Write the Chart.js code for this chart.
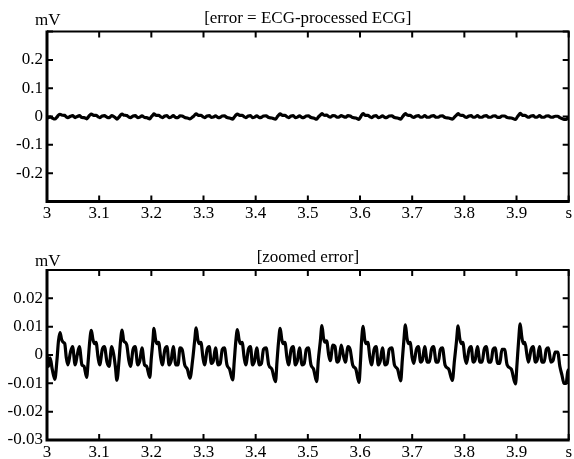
<!DOCTYPE html>
<html>
<head>
<meta charset="utf-8">
<script src="https://cdn.jsdelivr.net/npm/chart.js@4.4.1/dist/chart.umd.min.js"></script>
<style>
  body { margin: 0; background: #fff; }
  #wrap { position: relative; width: 574px; height: 459px; overflow: hidden; }
  #wrap canvas { position: absolute; left: 0; }
</style>
</head>
<body>
<div id="wrap">
  <canvas id="error-chart" width="574" height="230" style="top:0"></canvas>
  <canvas id="zoom-chart" width="574" height="229" style="top:230px"></canvas>
</div>
<script>
// error signal (mV), time in seconds
const times = [
  3.000, 3.003, 3.006, 3.010, 3.015, 3.019, 3.022, 3.025,
  3.028, 3.031, 3.034, 3.037, 3.040, 3.045, 3.049, 3.054, 3.058, 3.062, 3.067, 3.071, 3.076, 3.079, 3.082, 3.085,
  3.088, 3.091, 3.094, 3.098, 3.101, 3.106, 3.110, 3.115, 3.119, 3.124, 3.128, 3.131, 3.134, 3.138, 3.141, 3.144,
  3.147, 3.150, 3.153, 3.157, 3.160, 3.165, 3.169, 3.174, 3.178, 3.182, 3.187, 3.191, 3.197, 3.200, 3.203, 3.205,
  3.208, 3.211, 3.214, 3.218, 3.221, 3.226, 3.230, 3.234, 3.238, 3.242, 3.247, 3.251, 3.255, 3.259, 3.264, 3.269, 3.274, 3.279, 3.283, 3.286,
  3.289, 3.292, 3.295, 3.299, 3.302, 3.307, 3.311, 3.315, 3.319, 3.323, 3.328, 3.332, 3.336, 3.340, 3.345, 3.350, 3.356, 3.359, 3.362, 3.365,
  3.368, 3.371, 3.374, 3.378, 3.381, 3.386, 3.390, 3.394, 3.398, 3.402, 3.407, 3.411, 3.415, 3.420, 3.425, 3.431, 3.438, 3.441, 3.444, 3.447,
  3.450, 3.453, 3.456, 3.460, 3.463, 3.468, 3.472, 3.476, 3.480, 3.484, 3.489, 3.493, 3.497, 3.501, 3.506, 3.511, 3.517, 3.520, 3.524, 3.527,
  3.530, 3.533, 3.536, 3.540, 3.543, 3.548, 3.552, 3.556, 3.560, 3.564, 3.568, 3.572, 3.577, 3.581, 3.586, 3.592, 3.598, 3.601, 3.603, 3.606,
  3.609, 3.612, 3.615, 3.619, 3.622, 3.627, 3.631, 3.635, 3.639, 3.643, 3.648, 3.652, 3.656, 3.661, 3.666, 3.672, 3.678, 3.681, 3.684, 3.687,
  3.690, 3.693, 3.696, 3.700, 3.703, 3.708, 3.712, 3.716, 3.720, 3.724, 3.729, 3.733, 3.737, 3.741, 3.746, 3.750, 3.754, 3.758, 3.763, 3.770, 3.777, 3.781, 3.785, 3.788,
  3.791, 3.794, 3.797, 3.801, 3.804, 3.809, 3.813, 3.817, 3.821, 3.825, 3.830, 3.834, 3.838, 3.842, 3.847, 3.851, 3.855, 3.859, 3.864, 3.868, 3.872, 3.877, 3.882, 3.890, 3.898, 3.901, 3.904, 3.907,
  3.910, 3.913, 3.916, 3.920, 3.923, 3.928, 3.932, 3.936, 3.940, 3.944, 3.949, 3.953, 3.957, 3.961, 3.966, 3.970, 3.974, 3.979, 3.983, 3.987, 3.991, 3.995, 3.998, 4.000
];
const errorMv = [
  0.0000, -0.0040, -0.0010, -0.0050, -0.0086, -0.0020, 0.0050, 0.0079,
  0.0055, 0.0045, 0.0040, -0.0010, -0.0035, 0.0010, 0.0030, -0.0035, 0.0000, 0.0030, -0.0035, -0.0040, -0.0079, -0.0020, 0.0050, 0.0087,
  0.0055, 0.0040, 0.0045, -0.0010, -0.0035, 0.0020, 0.0030, -0.0025, -0.0040, 0.0030, 0.0000, -0.0040, -0.0089, -0.0020, 0.0050, 0.0088,
  0.0050, 0.0045, 0.0035, -0.0020, -0.0040, 0.0020, 0.0030, -0.0035, -0.0020, 0.0025, -0.0035, -0.0040, -0.0079, -0.0010, 0.0050, 0.0094,
  0.0055, 0.0040, 0.0045, -0.0010, -0.0035, 0.0020, 0.0030, -0.0035, -0.0020, 0.0030, -0.0035, -0.0035, 0.0025, 0.0020, -0.0035, -0.0050, -0.0082, -0.0020, 0.0050, 0.0096,
  0.0055, 0.0040, 0.0045, -0.0010, -0.0035, 0.0020, 0.0030, -0.0030, -0.0020, 0.0025, -0.0035, -0.0030, 0.0020, 0.0025, -0.0035, -0.0050, -0.0088, -0.0020, 0.0050, 0.0090,
  0.0055, 0.0040, 0.0045, -0.0010, -0.0035, 0.0020, 0.0030, -0.0035, -0.0020, 0.0025, -0.0035, -0.0030, 0.0020, 0.0025, -0.0035, -0.0050, -0.0094, -0.0020, 0.0050, 0.0094,
  0.0055, 0.0040, 0.0045, -0.0010, -0.0035, 0.0020, 0.0030, -0.0035, -0.0020, 0.0025, -0.0035, -0.0030, 0.0020, 0.0025, -0.0035, -0.0050, -0.0094, -0.0020, 0.0050, 0.0104,
  0.0060, 0.0045, 0.0050, 0.0000, -0.0020, 0.0035, 0.0030, -0.0025, -0.0015, 0.0035, 0.0000, -0.0025, 0.0030, 0.0020, -0.0035, -0.0050, -0.0097, -0.0020, 0.0050, 0.0101,
  0.0055, 0.0040, 0.0045, -0.0010, -0.0035, 0.0020, 0.0030, -0.0035, -0.0020, 0.0025, -0.0035, -0.0030, 0.0020, 0.0025, -0.0035, -0.0050, -0.0091, -0.0020, 0.0050, 0.0106,
  0.0060, 0.0040, 0.0045, -0.0010, -0.0030, 0.0020, 0.0030, -0.0025, -0.0015, 0.0030, -0.0025, -0.0025, 0.0020, 0.0030, -0.0025, -0.0025, 0.0020, 0.0025, -0.0035, -0.0050, -0.0090, -0.0020, 0.0050, 0.0103,
  0.0060, 0.0040, 0.0045, -0.0010, -0.0030, 0.0020, 0.0030, -0.0025, -0.0015, 0.0030, -0.0025, -0.0025, 0.0020, 0.0030, -0.0025, -0.0025, 0.0020, 0.0025, -0.0030, -0.0030, 0.0020, 0.0020, -0.0035, -0.0050, -0.0102, -0.0030, 0.0050, 0.0110,
  0.0065, 0.0040, 0.0045, 0.0000, -0.0025, 0.0020, 0.0030, -0.0025, -0.0015, 0.0030, -0.0025, -0.0025, 0.0020, 0.0025, -0.0025, -0.0020, 0.0010, 0.0010, -0.0040, -0.0070, -0.0100, -0.0100, -0.0060, -0.0050
];

const panelTitles = ['[error = ECG-processed ECG]', '[zoomed error]'];
const unitLabel = 'mV';
const timeUnit = 's';

const FONT = '"Liberation Serif", "Times New Roman", serif';
const FONT_SIZE = 17;

// frame, inward ticks and the titles, drawn on top of the chart
const framePlugin = {
    id: 'frame',
    afterDraw(chart, args, opts) {
        const { ctx, chartArea: a, scales } = chart;
        ctx.save();
        ctx.strokeStyle = '#000';
        ctx.lineWidth = 2;
        ctx.beginPath();
        scales.x.ticks.forEach(t => {
            const px = scales.x.getPixelForValue(t.value);
            ctx.moveTo(px, a.bottom); ctx.lineTo(px, a.bottom - 6);
            ctx.moveTo(px, a.top); ctx.lineTo(px, a.top + 6);
        });
        scales.y.ticks.forEach(t => {
            const py = scales.y.getPixelForValue(t.value);
            ctx.moveTo(a.left, py); ctx.lineTo(a.left + 6, py);
            ctx.moveTo(a.right, py); ctx.lineTo(a.right - 6, py);
        });
        ctx.stroke();

        // top and right edges thinner than the axes
        ctx.beginPath();
        ctx.moveTo(a.left, a.top); ctx.lineTo(a.right, a.top); ctx.lineTo(a.right, a.bottom);
        ctx.stroke();
        ctx.lineWidth = 3;
        ctx.beginPath();
        ctx.moveTo(a.left, a.top - 1); ctx.lineTo(a.left, a.bottom); ctx.lineTo(a.right + 1, a.bottom);
        ctx.stroke();

        ctx.fillStyle = '#000';
        ctx.font = FONT_SIZE + 'px ' + FONT;
        ctx.textBaseline = 'middle';
        ctx.textAlign = 'center';
        ctx.fillText(opts.title, (a.left + a.right) / 2, opts.titleY);
        ctx.textAlign = 'left';
        ctx.fillText(unitLabel, 35, opts.unitY);
        ctx.restore();
    }
};

function makePanel(canvasId, opts) {
    const points = times.map((t, i) => ({ x: t, y: errorMv[i] }));
    return new Chart(document.getElementById(canvasId), {
        type: 'line',
        data: {
            datasets: [{
                data: points,
                borderColor: '#000',
                borderWidth: 3.2,
                pointRadius: 0,
                cubicInterpolationMode: 'monotone',
                fill: false
            }]
        },
        options: {
            responsive: false,
            animation: false,
            layout: { padding: { top: opts.padTop, right: 4, left: 0, bottom: 0 } },
            plugins: {
                legend: { display: false },
                tooltip: { enabled: false },
                frame: { title: opts.title, titleY: opts.titleY, unitY: opts.unitY }
            },
            scales: {
                x: {
                    type: 'linear',
                    min: 3,
                    max: 4,
                    grid: { display: false, drawTicks: false },
                    border: { display: false },
                    afterFit: (scale) => { scale.height = opts.xHeight; },
                    ticks: {
                        stepSize: 0.1,
                        padding: 2,
                        color: '#000',
                        font: { family: FONT, size: FONT_SIZE },
                        maxRotation: 0,
                        autoSkip: false,
                        callback: (v) => {
                            const r = Math.round(v * 10) / 10;
                            return r >= 4 ? timeUnit : String(r);
                        }
                    }
                },
                y: {
                    min: opts.yMin,
                    max: opts.yMax,
                    grid: { display: false, drawTicks: false },
                    border: { display: false },
                    afterFit: (scale) => { scale.width = 47; },
                    ticks: {
                        stepSize: opts.yStep,
                        padding: 4,
                        color: '#000',
                        font: { family: FONT, size: FONT_SIZE },
                        callback: opts.yLabel
                    }
                }
            }
        },
        plugins: [framePlugin]
    });
}

makePanel('error-chart', {
    title: panelTitles[0], titleY: 19, unitY: 21,
    padTop: 31.6, xHeight: 28.5,
    yMin: -0.3, yMax: 0.3, yStep: 0.1,
    yLabel: (v) => {
        const r = Math.round(v * 10) / 10;
        return Math.abs(r) >= 0.3 ? '' : String(r);
    }
});

makePanel('zoom-chart', {
    title: panelTitles[1], titleY: 28, unitY: 32,
    padTop: 40, xHeight: 19,
    yMin: -0.03, yMax: 0.03, yStep: 0.01,
    yLabel: (v) => {
        const r = Math.round(v * 100) / 100;
        return r >= 0.03 ? '' : String(r);
    }
});
</script>
</body>
</html>
